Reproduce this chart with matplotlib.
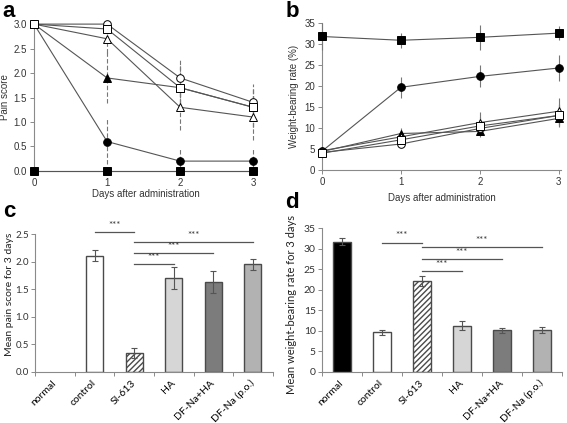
import matplotlib
matplotlib.use("Agg")
import matplotlib.pyplot as plt
import matplotlib.transforms as mtransforms
import numpy as np

plt.rcParams['font.family'] = ['Liberation Sans', 'DejaVu Sans']

days = [0, 1, 2, 3]

# panel a: pain score
pain = {
    'normal':   [0.0, 0.0, 0.0, 0.0],
    'SI-613':   [3.0, 0.6, 0.2, 0.2],
    'DF-Na+HA': [3.0, 1.9, 1.7, 1.3],
    'HA':       [3.0, 2.7, 1.3, 1.1],
    'control':  [3.0, 3.0, 1.9, 1.4],
    'DF-Na':    [3.0, 2.9, 1.7, 1.3],
}
pain_err = {
    'normal':   [0, 0, 0, 0],
    'SI-613':   [0, 0.46, 0.27, 0.27],
    'DF-Na+HA': [0, 0.52, 0.45, 0.4],
    'HA':       [0, 0.3, 0.47, 0.47],
    'control':  [0, 0.05, 0.4, 0.37],
    'DF-Na':    [0, 0.1, 0.45, 0.4],
}

# panel b: weight-bearing rate
wb = {
    'normal':   [31.8, 30.9, 31.6, 32.6],
    'SI-613':   [4.5, 19.7, 22.3, 24.3],
    'DF-Na+HA': [4.4, 8.7, 9.2, 12.3],
    'HA':       [4.6, 7.9, 11.3, 14.0],
    'control':  [4.2, 6.2, 9.9, 13.0],
    'DF-Na':    [4.0, 7.2, 10.5, 13.0],
}
wb_err = {
    'normal':   [3.2, 1.8, 3.0, 1.6],
    'SI-613':   [0.5, 2.5, 2.6, 3.1],
    'DF-Na+HA': [0.5, 1.3, 0.8, 1.2],
    'HA':       [0.5, 1.0, 2.5, 3.2],
    'control':  [0.5, 0.8, 2.0, 2.6],
    'DF-Na':    [0.5, 0.8, 2.2, 2.8],
}

styles = {
    'normal':   dict(marker='s', mfc='black'),
    'SI-613':   dict(marker='o', mfc='black'),
    'DF-Na+HA': dict(marker='^', mfc='black'),
    'HA':       dict(marker='^', mfc='white'),
    'control':  dict(marker='o', mfc='white'),
    'DF-Na':    dict(marker='s', mfc='white'),
}

# panels c, d: 3-day means
groups = ['normal', 'control', 'SI-613', 'HA', 'DF-Na+HA', 'DF-Na (p.o.)']
pain_mean = [0.0, 2.11, 0.34, 1.70, 1.63, 1.95]
pain_sem = [0.0, 0.10, 0.09, 0.20, 0.20, 0.10]
wb_mean = [31.7, 9.7, 22.1, 11.2, 10.1, 10.3]
wb_sem = [0.8, 0.6, 1.2, 1.1, 0.5, 0.7]
bar_colors = ['black', 'white', 'white', '#d6d6d6', '#7c7c7c', '#b2b2b2']
bar_hatch = [None, None, '//////', None, None, None]

# significance pairs (i, j, y) for c and d
sig_c = [(1, 2, 2.54), (2, 5, 2.36), (2, 4, 2.16), (2, 3, 1.96)]
sig_d = [(1, 2, 31.5), (2, 5, 30.3), (2, 4, 27.4), (2, 3, 24.6)]

fig = plt.figure(figsize=(5.67, 4.23), dpi=100)
axa = fig.add_axes([0.060, 0.596, 0.393, 0.347])
axb = fig.add_axes([0.568, 0.598, 0.4215, 0.3475])
axc = fig.add_axes([0.062, 0.1206, 0.419, 0.326])
axd = fig.add_axes([0.568, 0.1206, 0.423, 0.340])

spine_col = '#8a8a8a'
line_col = '#555555'


def line_panel(ax, data, err, dashed):
    for k in ['normal', 'SI-613', 'DF-Na+HA', 'HA', 'control', 'DF-Na']:
        eb = ax.errorbar(days, data[k], yerr=err[k], color=line_col, lw=0.8,
                         ecolor='#777777', elinewidth=0.8, capsize=0,
                         markersize=5.5, mec='black', mew=0.7,
                         clip_on=False, zorder=3, **styles[k])
        if dashed:
            eb[2][0].set_linestyle((0, (4, 2)))
    for s in ['top', 'right']:
        ax.spines[s].set_visible(False)
    for s in ['left', 'bottom']:
        ax.spines[s].set_color(spine_col)
        ax.spines[s].set_linewidth(0.8)
    ax.set_xticks(days)
    ax.tick_params(labelsize=7, colors='#333333', length=3, width=0.7,
                   color=spine_col, pad=2)
    ax.set_xlabel('Days after administration', fontsize=7, color='#333333')


line_panel(axa, pain, pain_err, True)
axa.set_xlim(0, 3.05)
axa.set_ylim(0, 3.0)
axa.set_yticks(np.arange(0, 3.01, 0.5))
axa.set_yticklabels(['%.1f' % v for v in np.arange(0, 3.01, 0.5)])
axa.set_ylabel('Pain score', fontsize=7, color='#333333', labelpad=3)
axa.xaxis.labelpad = 1

line_panel(axb, wb, wb_err, False)
axb.set_xlim(0, 3.03)
axb.set_ylim(0, 35)
axb.set_yticks(range(0, 36, 5))
axb.set_ylabel('Weight-bearing rate (%)', fontsize=7, color='#333333', labelpad=4)
axb.xaxis.labelpad = 4

cal = ['Lato', 'DejaVu Sans']


def bar_panel(ax, means, sems, sig, ymax, step, fmt, ylabel):
    x = np.arange(len(groups))
    for i in x:
        if means[i] == 0:
            continue
        ax.bar(i, means[i], width=0.43, color=bar_colors[i],
               edgecolor='#4a4a4a', linewidth=1.0, hatch=bar_hatch[i], zorder=2)
        ax.errorbar(i, means[i], yerr=sems[i], color='#555555', lw=0.8,
                    capsize=2.5, capthick=0.8, zorder=3)
    for i, j, y in sig:
        ax.plot([i, j], [y, y], color='#555555', lw=0.9, clip_on=False)
        ax.text((i + j) / 2, y + ymax * 0.015, '***', ha='center', va='bottom',
                fontsize=7, color='#333333', family=cal)
    ax.set_xlim(-0.5, 5.5)
    ax.set_ylim(0, ymax)
    ax.set_yticks(np.arange(0, ymax + 0.001, step))
    ax.set_yticklabels([fmt % v for v in np.arange(0, ymax + 0.001, step)],
                       family=cal)
    ax.set_xticks(x)
    ax.set_xticklabels(groups, rotation=45, ha='right', va='center',
                       rotation_mode='anchor', fontsize=7.5, family=cal)
    shift = mtransforms.ScaledTranslation(5 / 100, 0, fig.dpi_scale_trans)
    for t in ax.get_xticklabels():
        t.set_transform(t.get_transform() + shift)
    ax.set_xticks(np.arange(-0.5, 5.6, 1), minor=True)
    ax.tick_params(axis='x', which='major', length=0, pad=7)
    ax.tick_params(axis='x', which='minor', length=3, color=spine_col, width=0.7)
    ax.tick_params(axis='y', labelsize=7.5, length=3, color=spine_col, width=0.7,
                   labelcolor='#333333', pad=1.5)
    for s in ['top', 'right']:
        ax.spines[s].set_visible(False)
    for s in ['left', 'bottom']:
        ax.spines[s].set_color(spine_col)
        ax.spines[s].set_linewidth(0.8)
    ax.set_ylabel(ylabel, fontsize=8, family=cal, color='#222222', labelpad=3)


bar_panel(axc, pain_mean, pain_sem, sig_c, 2.5, 0.5, '%.1f',
          'Mean pain score for 3 days')
bar_panel(axd, wb_mean, wb_sem, sig_d, 35, 5, '%d',
          'Mean weight-bearing rate for 3 days')
axc.yaxis.label.set_fontsize(7.5)
axc.tick_params(axis='y', labelsize=7)
axc.yaxis.set_label_coords(-0.087, 0.56)
axd.yaxis.set_label_coords(-0.105, 0.47)

for lab, x, y in [('a', 0.005, 0.998), ('b', 0.503, 0.998),
                  ('c', 0.005, 0.525), ('d', 0.503, 0.545)]:
    fig.text(x, y, lab, fontsize=16, fontweight='bold', va='top', ha='left')

fig.savefig('out.png', dpi=100)
